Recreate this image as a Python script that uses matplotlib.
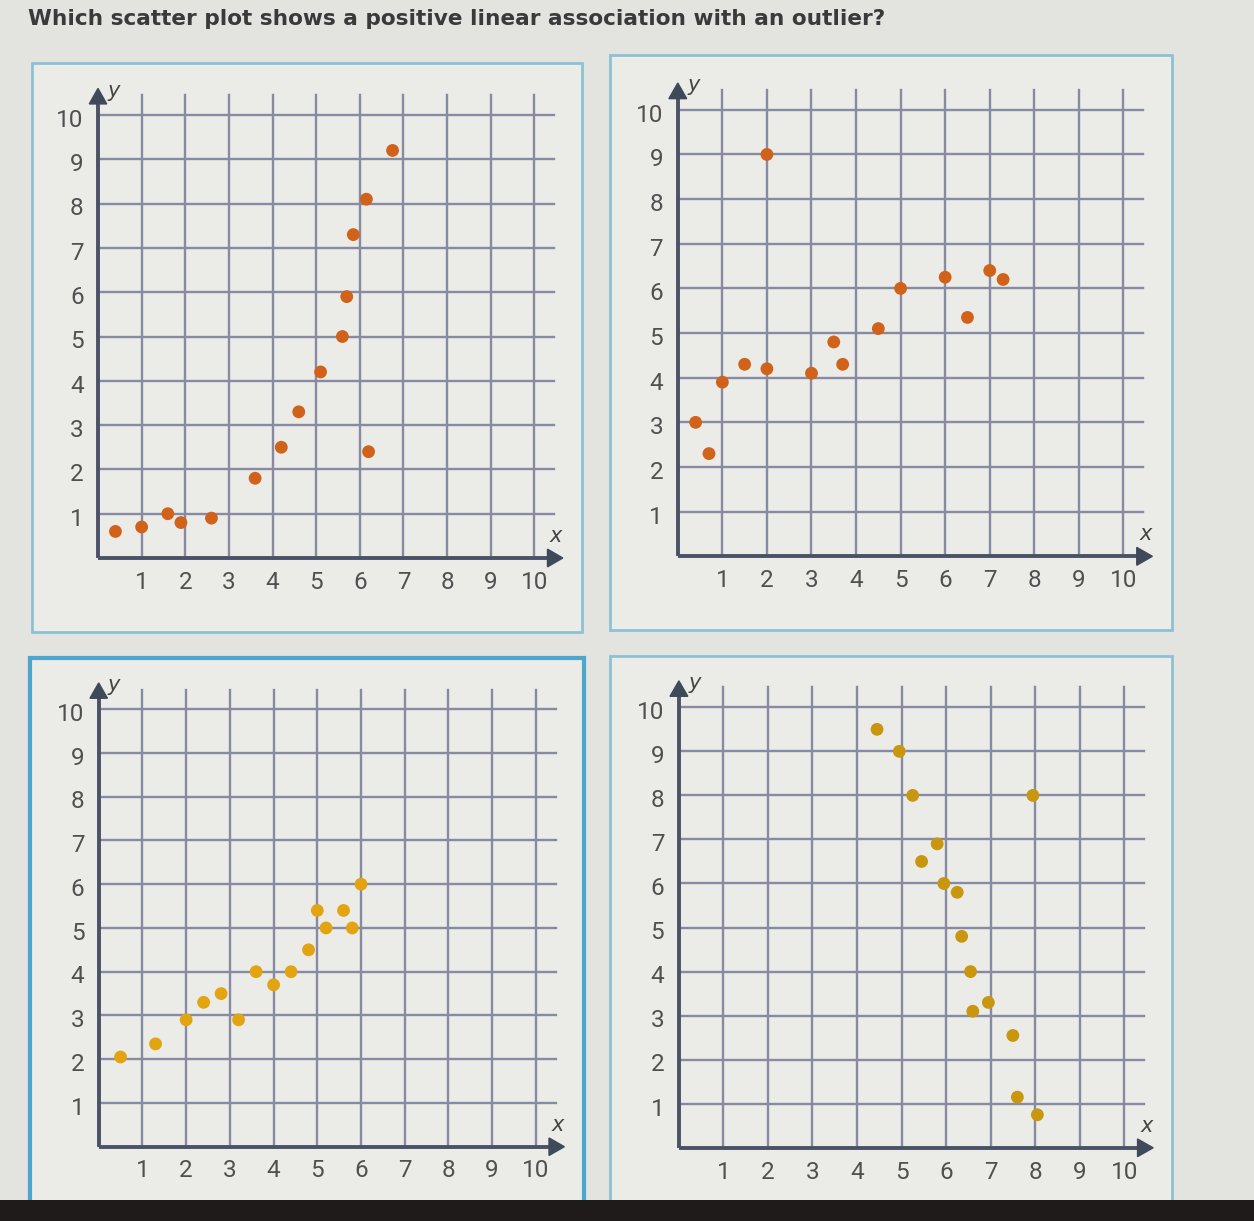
import matplotlib
matplotlib.use("Agg")
import matplotlib.pyplot as plt
from matplotlib.patches import Rectangle, Polygon

W, H = 1254, 1221
title = "Which scatter plot shows a positive linear association with an outlier?"
tick_values = [1, 2, 3, 4, 5, 6, 7, 8, 9, 10]
tick_labels = ["1", "2", "3", "4", "5", "6", "7", "8", "9", "10"]

A_x = [0.4, 1.0, 1.6, 1.9, 2.6, 3.6, 4.2, 4.6, 5.1, 5.6, 5.7, 5.85, 6.15, 6.2, 6.75]
A_y = [0.6, 0.7, 1.0, 0.8, 0.9, 1.8, 2.5, 3.3, 4.2, 5.0, 5.9, 7.3, 8.1, 2.4, 9.2]

B_x = [0.4, 0.7, 1.0, 1.5, 2.0, 2.0, 3.0, 3.5, 3.7, 4.5, 5.0, 6.0, 6.5, 7.0, 7.3]
B_y = [3.0, 2.3, 3.9, 4.3, 4.2, 9.0, 4.1, 4.8, 4.3, 5.1, 6.0, 6.25, 5.35, 6.4, 6.2]

C_x = [0.5, 1.3, 2.0, 2.4, 2.8, 3.2, 3.6, 4.0, 4.4, 4.8, 5.0, 5.2, 5.6, 5.8, 6.0]
C_y = [2.05, 2.35, 2.9, 3.3, 3.5, 2.9, 4.0, 3.7, 4.0, 4.5, 5.4, 5.0, 5.4, 5.0, 6.0]

D_x = [4.45, 4.95, 5.25, 7.95, 5.8, 5.45, 5.95, 6.25, 6.35, 6.55, 6.95, 6.6, 7.5, 7.6, 8.05]
D_y = [9.5, 9.0, 8.0, 8.0, 6.9, 6.5, 6.0, 5.8, 4.8, 4.0, 3.3, 3.1, 2.55, 1.15, 0.75]

fig = plt.figure(figsize=(W / 100, H / 100), dpi=100)
fig.patch.set_facecolor("#e3e3e0")

def fx(px):
    return px / W

def fy(py):
    return 1 - py / H

# panel boxes (pixel coords): x0, y0, x1, y1, edge, lw
boxes = [
    (32, 63, 582, 632, "#8cc2d4", 2.0),
    (610, 55, 1172, 630, "#8cc2d4", 2.0),
    (30, 658, 584, 1230, "#4fa6cc", 3.0),
    (610, 656, 1172, 1230, "#8cc2d4", 2.0),
]
for x0, y0, x1, y1, ec, lw in boxes:
    fig.patches.append(Rectangle((fx(x0), fy(y1)), fx(x1 - x0), (y1 - y0) / H,
                                 transform=fig.transFigure, facecolor="#ebebe8",
                                 edgecolor=ec, linewidth=lw, zorder=-5))

fig.text(fx(28), fy(19), title, fontsize=15.6, fontweight="bold",
         color="#3a3a3a", ha="left", va="center", family="DejaVu Sans")

panels = [
    ((98.0, 558.0, 534.4, 115.0), A_x, A_y, "#d0621a"),
    ((677.8, 556.3, 1123.4, 109.8), B_x, B_y, "#d0621a"),
    ((98.7, 1146.7, 535.9, 709.2), C_x, C_y, "#e2a410"),
    ((678.9, 1147.8, 1124.2, 707.3), D_x, D_y, "#c9960f"),
]

grid_c = "#878aa0"
axis_c = "#4c5266"

for (x0, y0, x10, y10), xs, ys, col in panels:
    ax = fig.add_axes([fx(x0), fy(y0), fx(x10 - x0), (y0 - y10) / H])
    ax.set_zorder(1)
    ax.set_xlim(0, 10)
    ax.set_ylim(0, 10)
    ax.axis("off")
    for v in tick_values:
        ax.plot([v, v], [0, 10.45], color=grid_c, lw=1.7, clip_on=False, zorder=1)
        ax.plot([0, 10.45], [v, v], color=grid_c, lw=1.7, clip_on=False, zorder=1)
    ax.plot([0, 10.35], [0, 0], color=axis_c, lw=2.8, clip_on=False, zorder=2, solid_capstyle="butt")
    ax.plot([0, 0], [0, 10.3], color=axis_c, lw=2.8, clip_on=False, zorder=2, solid_capstyle="butt")
    ax.add_patch(Polygon([[10.3, 0.2], [10.3, -0.2], [10.65, 0]], closed=True,
                         color="#3e4a5a", clip_on=False, zorder=3))
    ax.add_patch(Polygon([[-0.2, 10.25], [0.2, 10.25], [0, 10.6]], closed=True,
                         color="#3e4a5a", clip_on=False, zorder=3))
    for v, lab in zip(tick_values, tick_labels):
        ax.text(v, -0.55, lab, ha="center", va="center", fontsize=17.5,
                color="#505050", family="Roboto", clip_on=False)
        ax.text(-0.33, v - 0.12, lab, ha="right", va="center", fontsize=17.5,
                color="#505050", family="Roboto", clip_on=False)
    ax.text(10.5, 0.5, "x", ha="center", va="center", fontsize=15, style="italic",
            color="#444444", family="DejaVu Sans", clip_on=False)
    ax.text(0.35, 10.55, "y", ha="center", va="center", fontsize=15, style="italic",
            color="#444444", family="DejaVu Sans", clip_on=False)
    ax.scatter(xs, ys, s=85, color=col, edgecolors="none", zorder=4, clip_on=False)

fig.patches.append(Rectangle((0, 0), 1, 21 / H, transform=fig.transFigure,
                             facecolor="#1f1b1b", edgecolor="none", zorder=10))

fig.savefig("out.png", dpi=100, facecolor=fig.get_facecolor())
